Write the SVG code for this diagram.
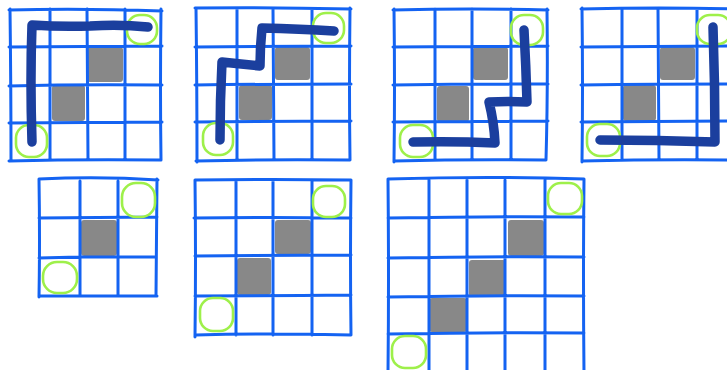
<svg xmlns="http://www.w3.org/2000/svg" width="727" height="370" viewBox="0 0 727 370">
<style>
.g{stroke:#1463f2;stroke-width:3;fill:none;stroke-linecap:round;stroke-linejoin:round}
.c{fill:#888888;stroke:none}
.s{fill:none;stroke:#9ef04a;stroke-width:2.6}
.p{fill:none;stroke:#1b3f9e;stroke-width:9.5;stroke-linecap:round;stroke-linejoin:round}
</style>
<rect width="727" height="370" fill="#ffffff"/>

<g id="grid1">
<rect class="c" x="87" y="47" width="36" height="35" rx="3"/>
<rect class="c" x="52" y="85" width="33" height="36" rx="3"/>
<path class="g" d="M10 9 Q11 90 11 161 M50 9 L50 160 M87 9 L88 160 M125 9 L125 160 M161 9 Q160 90 161 160 M9 10 Q80 8 162 11 M9 47 L162 46 M9 86 Q80 84 162 85 M9 123 L162 122 M9 161 Q80 159 161 160"/>
<rect class="s" x="127" y="15" width="30" height="29" rx="13"/>
<rect class="s" x="16" y="125" width="31" height="32" rx="13"/>
</g>

<g id="grid2">
<rect class="c" x="275" y="47" width="35" height="33" rx="3"/>
<rect class="c" x="239" y="85" width="33" height="35" rx="3"/>
<path class="g" d="M196 8 Q197 90 197 162 M237 9 L237 160 M273 9 L274 160 M312 9 L312 160 M350 8 Q349 90 350 160 M195 8 Q270 7 351 9 M195 47 L351 46 M195 85 Q270 84 351 84 M195 122 L351 121 M196 161 Q270 159 350 160"/>
<rect class="s" x="313" y="13" width="31" height="30" rx="13"/>
<rect class="s" x="203" y="123" width="30" height="32" rx="13"/>
</g>

<g id="grid3">
<rect class="c" x="473" y="47" width="35" height="33" rx="3"/>
<rect class="c" x="437" y="86" width="32" height="36" rx="3"/>
<path class="g" d="M394 9 Q395 90 394 162 M435 9 L435 160 M472 9 L472 160 M511 9 L511 160 M547 9 Q548 90 546 160 M393 10 Q470 8 548 10 M393 47 L548 46 M393 85 Q470 84 548 84 M393 122 L548 121 M394 161 Q470 159 546 160"/>
<rect class="s" x="511" y="15" width="32" height="30" rx="13"/>
<rect class="s" x="400" y="125" width="33" height="32" rx="13"/>
</g>

<g id="grid4">
<rect class="c" x="660" y="47" width="35" height="33" rx="3"/>
<rect class="c" x="623" y="85" width="33" height="36" rx="3"/>
<path class="g" d="M582 8 Q583 90 582 162 M622 9 L622 160 M658 9 L659 160 M697 9 L697 160 M581 9 Q660 7 735 9 M581 47 L735 46 M581 85 Q660 84 735 84 M581 122 L735 121 M582 161 Q660 159 735 160"/>
<rect class="s" x="697" y="15" width="34" height="29" rx="13"/>
<rect class="s" x="587" y="124" width="33" height="32" rx="13"/>
</g>

<g id="grid5">
<rect class="c" x="81" y="220" width="36" height="36" rx="3"/>
<path class="g" d="M39 179 Q40 240 39 297 M80 181 L80 296 M118 181 L118 296 M157 179 L156 296 M39 179 Q100 176 158 180 M39 218 L157 217 M39 258 Q100 256 156 257 M39 296 L157 296"/>
<rect class="s" x="122" y="183" width="33" height="34" rx="14"/>
<rect class="s" x="43" y="262" width="34" height="31" rx="14"/>
</g>

<g id="grid6">
<rect class="c" x="275" y="220" width="36" height="34" rx="3"/>
<rect class="c" x="237" y="258" width="34" height="37" rx="3"/>
<path class="g" d="M195 180 Q196 260 195 337 M236 181 L236 335 M273 181 L273 335 M312 181 L312 335 M351 180 Q350 260 351 335 M195 180 Q270 179 351 180 M194 218 Q270 217 351 218 M195 256 L351 255 M195 296 Q270 296 351 295 M196 335 Q270 333 351 335"/>
<rect class="s" x="313" y="186" width="32" height="31" rx="13"/>
<rect class="s" x="200" y="298" width="33" height="33" rx="13"/>
</g>

<g id="grid7">
<rect class="c" x="508" y="220" width="36" height="36" rx="3"/>
<rect class="c" x="469" y="260" width="37" height="37" rx="3"/>
<rect class="c" x="429" y="298" width="38" height="34" rx="3"/>
<path class="g" d="M388 179 Q389 280 388 372 M429 180 L429 372 M467 180 L467 372 M505 180 L505 372 M545 180 L545 372 M584 179 Q583 280 584 372 M388 179 Q490 176 584 179 M388 218 Q490 216 584 217 M388 258 Q490 256 584 257 M388 297 Q490 295 584 296 M388 334 Q490 332 584 333"/>
<rect class="s" x="548" y="183" width="34" height="31" rx="13"/>
<rect class="s" x="392" y="336" width="34" height="32" rx="13"/>
</g>

<g id="paths">
<path class="p" d="M148 27 Q120 24 90 26 Q60 27 32 25 Q30 80 32 142"/>
<path class="p" d="M334 31 Q300 29 262 28 Q260 48 260 66 Q240 64 222 62 Q220 100 220 140"/>
<path class="p" d="M524 30 Q526 66 527 102 Q508 101 489 102 Q494 122 495 143 Q455 141 413 142"/>
<path class="p" d="M713 27 Q715 85 715 142 Q657 140 600 140"/>
</g>
</svg>
